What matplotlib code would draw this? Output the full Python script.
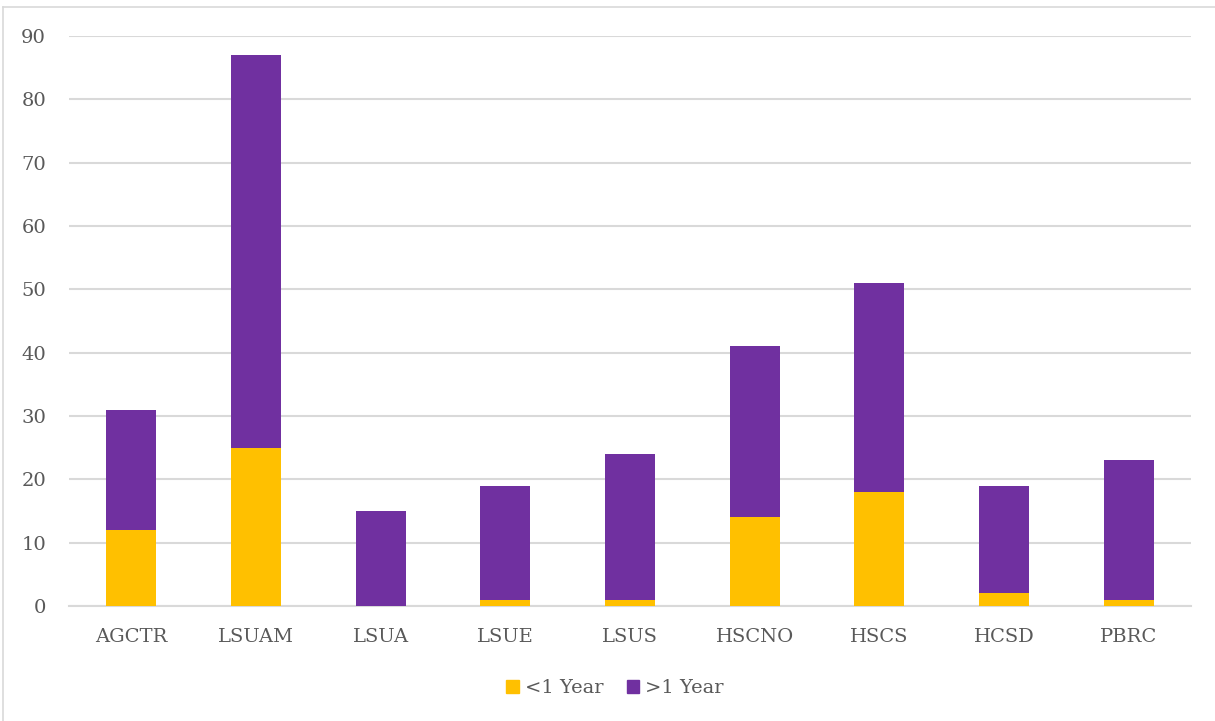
import matplotlib
matplotlib.use("Agg")
import matplotlib.pyplot as plt
from matplotlib.lines import Line2D
from matplotlib.patches import Patch

categories = ["AGCTR", "LSUAM", "LSUA", "LSUE", "LSUS", "HSCNO", "HSCS", "HCSD", "PBRC"]
under_1yr = [12, 25, 0, 1, 1, 14, 18, 2, 1]
over_1yr = [19, 62, 15, 18, 23, 27, 33, 17, 22]

yellow = "#FFC000"
purple = "#7030A0"
grey_txt = "#595959"
grid_c = "#D9D9D9"

plt.rcParams['font.family'] = ['DejaVu Serif']

fig = plt.figure(figsize=(12.15, 7.21), dpi=100)
ax = fig.add_axes([69 / 1215, 1 - 606 / 721, (1191 - 69) / 1215, (606 - 36) / 721])

x = range(len(categories))
ax.bar(x, under_1yr, width=0.4, color=yellow, label="<1 Year", zorder=3)
ax.bar(x, over_1yr, width=0.4, bottom=under_1yr, color=purple, label=">1 Year", zorder=3)

ax.set_xlim(-0.5, len(categories) - 0.5)
ax.set_ylim(0, 90)
ax.set_yticks(range(0, 91, 10))
ax.set_xticks(list(x))
ax.set_xticklabels(categories)
ax.grid(axis="y", color=grid_c, linewidth=1.5, zorder=0)
for s in ["top", "right", "left"]:
    ax.spines[s].set_visible(False)
ax.spines["bottom"].set_color(grid_c)
ax.spines["bottom"].set_linewidth(1.5)
ax.tick_params(length=0, labelsize=14, colors=grey_txt)
ax.tick_params(axis="x", pad=16)
ax.tick_params(axis="y", pad=16.5)

handles = [Patch(color=yellow), Patch(color=purple)]
fig.legend(handles, ["<1 Year", ">1 Year"], loc="center", bbox_to_anchor=(615 / 1215, 1 - 688 / 721),
           ncol=2, frameon=False, fontsize=14, labelcolor=grey_txt,
           handlelength=0.65, handleheight=0.65, handletextpad=0.3, columnspacing=1.2)

# chart frame
fig.add_artist(Line2D([3 / 1215, 3 / 1215], [0, 1 - 7 / 721], color=grid_c, linewidth=1.2))
fig.add_artist(Line2D([3 / 1215, 1], [1 - 7 / 721, 1 - 7 / 721], color=grid_c, linewidth=1.2))

fig.savefig("out.png", dpi=100)
